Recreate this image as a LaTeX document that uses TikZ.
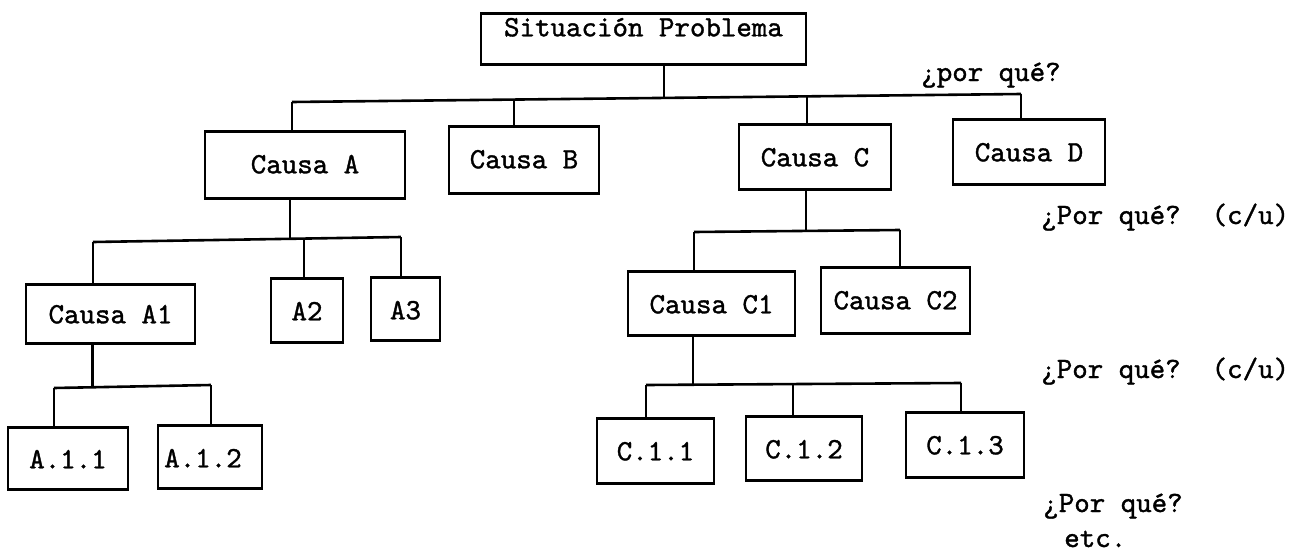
\documentclass[tikz,border=0pt]{standalone}
\usepackage{fontspec}
\newfontfamily\tw[FakeBold=1.2]{lmmono10-regular.otf}
\begin{document}
\begin{tikzpicture}[x=1pt,y=-1pt,
  line width=2.6pt,
  lbl/.style={font=\tw\fontsize{29.5}{34}\selectfont, inner sep=0pt},
  bx/.style n args={3}{draw, lbl, anchor=north, minimum width=#1pt,
    text height=#2pt, text depth=#3pt},
]
\useasboundingbox (0,0) rectangle (1302,557);

% boxes: width, baseline below top edge, depth below baseline
\node[bx={325}{23}{28}] (top) at (643.5,12) {Situación Problema};
\node[bx={200}{42}{25}] (A)   at (305,130)   {Causa A};
\node[bx={150}{42}{25}] (B)   at (524,125)   {Causa B};
\node[bx={152}{42}{23}] (C)   at (815,123)   {Causa C};
\node[bx={152}{42}{23}] (D)   at (1029,118)  {Causa D};
\node[bx={169}{39}{20}] (A1)  at (110.5,283) {Causa A1};
\node[bx={72}{42}{22}]  (A2)  at (307,277)   {A2};
\node[bx={69}{42}{21}]  (A3)  at (405.5,276) {A3};
\node[bx={120}{41}{21}] (A11) at (68,426)    {A.1.1};
\node[bx={104}{42}{21}] (A12) at (210,424)   {A.1.2\hspace*{14pt}};
\node[bx={167}{42}{22}] (C1)  at (711.5,270) {Causa C1};
\node[bx={149}{42}{24}] (C2)  at (895.5,266) {Causa C2};
\node[bx={117}{42}{23}] (C11) at (655.5,417) {C.1.1};
\node[bx={116}{42}{22}] (C12) at (804,415)   {C.1.2};
\node[bx={118}{42}{23}] (C13) at (965,411)   {C.1.3};

% first level
\coordinate (j0) at (664,97.9);
\coordinate (bL) at (292,102);
\coordinate (bR) at (1021,94);
\coordinate (bB) at (514,99.6);
\coordinate (bC) at (807,96.3);
\draw (top.south -| j0) -- (j0);
\draw (bL) -- (bR);
\draw (bL) -- (bL |- A.north);
\draw (bB) -- (bB |- B.north);
\draw (bC) -- (bC |- C.north);
\draw (bR) -- (bR |- D.north);

% under Causa A
\coordinate (aJ) at (290,238.8);
\coordinate (aL) at (93,242);
\coordinate (aR) at (401,237);
\coordinate (a2) at (304,238.6);
\draw (A.south -| aJ) -- (aJ);
\draw (aL) -- (aR);
\draw (aL) -- (aL |- A1.north);
\draw (a2) -- (a2 |- A2.north);
\draw (aR) -- (aR |- A3.north);

% under Causa A1
\coordinate (eJ) at (92.5,387.2);
\coordinate (eL) at (54,388);
\coordinate (eR) at (211,385);
\draw (A1.south -| eJ) -- (eJ);
\draw (eL) -- (eR);
\draw (eL) -- (eL |- A11.north);
\draw (eR) -- (eR |- A12.north);

% under Causa C
\coordinate (cJ) at (806,230.9);
\coordinate (cL) at (694,232);
\coordinate (cR) at (900,230);
\draw (C.south -| cJ) -- (cJ);
\draw (cL) -- (cR);
\draw (cL) -- (cL |- C1.north);
\draw (cR) -- (cR |- C2.north);

% under Causa C1
\coordinate (gJ) at (693,384.7);
\coordinate (gL) at (646,385);
\coordinate (gR) at (961,383);
\coordinate (g2) at (793,384.1);
\draw (C1.south -| gJ) -- (gJ);
\draw (gL) -- (gR);
\draw (gL) -- (gL |- C11.north);
\draw (g2) -- (g2 |- C12.north);
\draw (gR) -- (gR |- C13.north);

% questions on the right
\node[lbl, anchor=base west] (q0) at (920,81)   {¿por qué?};
\node[lbl, anchor=base west] (q1) at (1040,224) {¿Por qué?\ \ (c/u)};
\node[lbl, anchor=base west] (q2) at (1040,378) {¿Por qué?\ \ (c/u)};
\node[lbl, anchor=base west] (q3) at (1042,512) {¿Por qué?};
\node[lbl, anchor=base west] (q4) at (1063,547) {etc.};
\end{tikzpicture}
\end{document}
